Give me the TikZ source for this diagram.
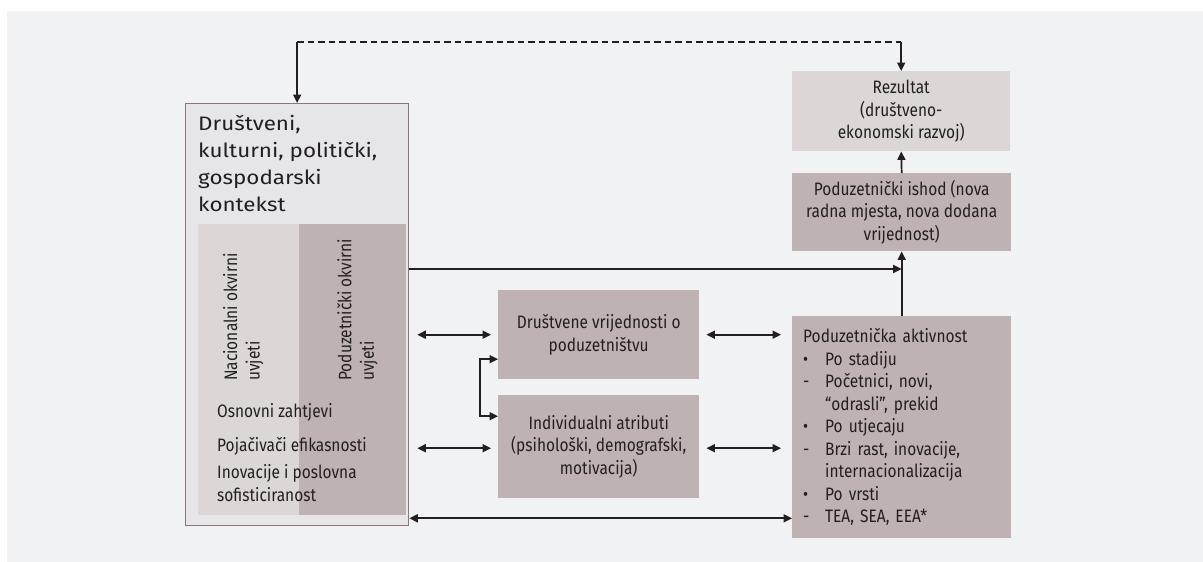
\documentclass[tikz,border=0pt]{standalone}
\usepackage{fontspec}
\setmainfont{Fira Sans}
\newfontfamily\condfont[FakeStretch=0.86]{Fira Sans}
\newfontfamily\titlefont[FakeStretch=1.15]{Fira Sans}
\usetikzlibrary{arrows.meta,calc}
\definecolor{bgc}{HTML}{F1F2F4}
\definecolor{outerfill}{HTML}{E6E6E8}
\definecolor{outerline}{HTML}{8C7679}
\definecolor{lightbox}{HTML}{DCD6D6}
\definecolor{darkbox}{HTML}{BFB2B2}
\definecolor{ink}{HTML}{231F20}
\newcommand{\itm}[1]{\makebox[22pt][l]{#1}}
\begin{document}
\begin{tikzpicture}[x=1pt,y=-1pt,
  every node/.style={text=ink},
  txt/.style={font=\condfont\fontsize{18}{22.5}\selectfont},
  boxd/.style={txt, rectangle, fill=darkbox, inner sep=0pt, anchor=north west, align=center},
  boxl/.style={boxd, fill=lightbox},
  col/.style={rectangle, inner sep=0pt, anchor=north west},
  conn/.style={draw=ink, line width=1.7pt, -{Triangle[length=8.5pt,width=8pt]}},
  dconn/.style={draw=ink, line width=1.7pt, {Triangle[length=8.5pt,width=8pt]}-{Triangle[length=8.5pt,width=8pt]}},
  dashline/.style={draw=ink, line width=1.4pt, dash pattern=on 6.5pt off 4pt}
]
\useasboundingbox (0,0) rectangle (1203,562);
\fill[bgc] (7,11) rectangle (1203,562);

% big context box
\node[col, fill=outerfill, draw=outerline, line width=1.3pt, minimum width=223pt, minimum height=422pt] (big) at (185,103) {};
\node[col, fill=lightbox, minimum width=208pt, minimum height=291pt] (natcol) at (198,224) {};
\node[col, fill=darkbox, minimum width=107pt, minimum height=291pt] (podcol) at (299,224) {};
% base anchor of a multi-line node = baseline of its last line
\node[anchor=base west, inner sep=0pt, align=left, font=\titlefont\fontsize{19.5}{26.7}\selectfont] (title) at (198,211)
  {Društveni,\\kulturni, politički,\\gospodarski\\kontekst};
\node[txt, rotate=90, anchor=north west, inner sep=0pt, align=left] (natlab) at (223,381) {Nacionalni okvirni\\uvjeti};
\node[txt, rotate=90, anchor=north west, inner sep=0pt, align=left] (podlab) at (337,381) {Poduzetnički okvirni\\uvjeti};
\node[txt, anchor=base west, inner sep=0pt] (osn) at (217,417) {Osnovni zahtjevi};
\node[txt, anchor=base west, inner sep=0pt] (poj) at (217,451) {Pojačivači efikasnosti};
\node[txt, anchor=base west, inner sep=0pt, align=left] (ino) at (217,501) {Inovacije i poslovna\\sofisticiranost};

% middle boxes
\node[boxd, minimum width=201pt, minimum height=89pt] (m1) at (498,290) {Društvene vrijednosti o\\poduzetništvu};
\node[boxd, minimum width=201pt, minimum height=103pt] (m2) at (498,395) {Individualni atributi\\(psihološki, demografski,\\motivacija)};

% right boxes
\node[boxl, minimum width=218pt, minimum height=80pt] (rez) at (792,71) {Rezultat\\(društveno-\\ekonomski razvoj)};
\node[boxd, minimum width=219pt, minimum height=78pt] (ish) at (792,173) {Poduzetnički ishod (nova\\radna mjesta, nova dodana\\vrijednost)};
\node[boxd, minimum width=219pt, minimum height=222pt, text width=197pt, align=left] (akt) at (792,316)
  {Poduzetnička aktivnost\\
   \itm{•}Po stadiju\\
   \itm{-}Početnici, novi,\\
   \itm{}“odrasli”, prekid\\
   \itm{•}Po utjecaju\\
   \itm{-}Brzi rast, inovacije,\\
   \itm{}internacionalizacija\\
   \itm{•}Po vrsti\\
   \itm{-}TEA, SEA, EEA*};

% feedback loop
\coordinate (dL) at ($(big.north)+(0,-61)$);
\coordinate (dR) at ($(rez.north)+(0,-29)$);
\draw[dashline] (dL) -- (dL -| dR);
\draw[conn] (dL) -- (big.north);
\draw[conn] (dL -| dR) -- (rez.north);

% right column flow
\draw[conn] (ish.north) -- (rez.south);
\draw[conn] (akt.north) -- (ish.south);
\coordinate (h1) at ($(big.north east)+(0,166)$);
\draw[conn] (h1) -- (h1 -| ish.south);

% double arrows
\draw[dconn, shorten <=8pt, shorten >=7pt] (big.east |- m1.west) -- (m1.west);
\draw[dconn, shorten <=7pt, shorten >=11pt] (m1.east) -- (m1.east -| akt.west);
\coordinate (m2l) at ($(m2.west)+(0,1.5)$);
\coordinate (m2r) at ($(m2.east)+(0,1.5)$);
\draw[dconn, shorten <=8pt, shorten >=7pt] (m2l -| big.east) -- (m2l);
\draw[dconn, shorten <=7pt, shorten >=11pt] (m2r) -- (m2r -| akt.west);
\coordinate (bA) at ($(big.south east)+(0,-8)$);
\draw[dconn] (bA) -- (bA -| akt.west);

% bracket between middle boxes
\coordinate (bt) at ($(m1.west)+(0,24.5)$);
\coordinate (bb) at ($(m2.west)+(0,-30.5)$);
\draw[dconn] (bt) -- ++(-18,0) |- (bb);
\end{tikzpicture}
\end{document}
